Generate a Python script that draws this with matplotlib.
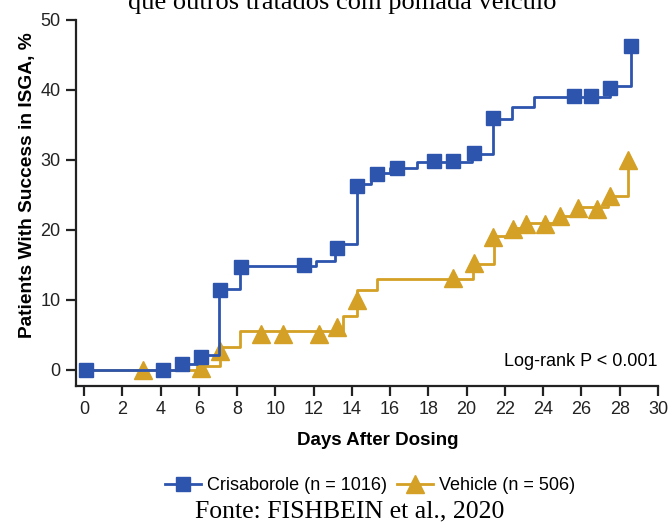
import matplotlib
matplotlib.use("Agg")
import matplotlib.pyplot as plt
from matplotlib.lines import Line2D

# ---- data ----
cris_step_days = [0, 5.0, 5.9, 7.05, 8.15, 12.15, 13.1, 14.25, 15.0, 16.0, 17.4, 20.3, 21.4, 22.35, 23.5, 27.5, 28.6]
cris_step_vals = [0, 0.9, 2.2, 11.5, 14.8, 15.6, 18.0, 26.5, 28.1, 28.9, 29.7, 30.9, 35.9, 37.6, 39.0, 40.6, 46.3]
cris_mark_days = [0.1, 4.15, 5.1, 6.1, 7.1, 8.2, 11.5, 13.2, 14.25, 15.3, 16.35, 18.3, 19.3, 20.4, 21.4, 25.6, 26.5, 27.5, 28.6]
cris_mark_vals = [0, 0, 0.8, 1.9, 11.4, 14.7, 15.0, 17.4, 26.3, 28.0, 28.9, 29.9, 29.9, 31.0, 36.0, 39.1, 39.1, 40.3, 46.3]

veh_step_days = [0, 5.9, 7.1, 8.15, 13.55, 14.25, 15.3, 20.35, 21.45, 22.4, 23.1, 24.9, 25.7, 27.4, 28.45]
veh_step_vals = [0, 0.5, 3.3, 5.5, 7.7, 11.4, 13.0, 15.2, 19.2, 20.3, 21.0, 22.0, 23.3, 24.9, 30.0]
veh_mark_days = [3.1, 6.1, 7.1, 9.25, 10.4, 12.3, 13.2, 14.25, 19.3, 20.4, 21.4, 22.4, 23.1, 24.1, 24.9, 25.8, 26.8, 27.5, 28.45]
veh_mark_vals = [0, 0.3, 2.7, 5.2, 5.2, 5.2, 6.1, 10.0, 13.1, 15.3, 19.0, 20.2, 20.9, 20.9, 22.0, 23.1, 23.0, 24.9, 30.0]

x_ticks = list(range(0, 31, 2))
y_ticks = [0, 10, 20, 30, 40, 50]
cris_label = "Crisaborole (n = 1016)"
veh_label = "Vehicle (n = 506)"

BLUE = "#2D55AE"
GOLD = "#D4A025"

plt.rcParams['font.family'] = ['Liberation Sans', 'DejaVu Sans']

fig = plt.figure(figsize=(6.72, 5.24), dpi=100)
ax = fig.add_axes([76/672, 1-386/524, (658-76)/672, (386-20)/524])

ax.plot(veh_step_days, veh_step_vals, drawstyle='steps-post', color=GOLD, lw=2.0, zorder=2)
ax.plot(veh_mark_days, veh_mark_vals, ls='none', marker='^', ms=13, color=GOLD, mec=GOLD, zorder=3)
ax.plot(cris_step_days, cris_step_vals, drawstyle='steps-post', color=BLUE, lw=2.0, zorder=4)
ax.plot(cris_mark_days, cris_mark_vals, ls='none', marker='s', ms=9.5, color=BLUE, mec=BLUE, zorder=5)

ax.set_xlim(-0.42, 30)
ax.set_ylim(-2.3, 50)
ax.set_xticks(x_ticks)
ax.set_yticks(y_ticks)
for s in ['top', 'right']:
    ax.spines[s].set_visible(False)
for s in ['left', 'bottom']:
    ax.spines[s].set_linewidth(1.6)
    ax.spines[s].set_color('#222222')
ax.tick_params(axis='both', direction='out', length=7, width=1.6, labelsize=13, colors='#222222', pad=4)

ax.set_xlabel("Days After Dosing", fontsize=13.5, fontweight='bold')
ax.xaxis.set_label_coords((378-76)/582, -(432-386)/366)
ax.set_ylabel("Patients With Success in ISGA, %", fontsize=13.8, fontweight='bold')
ax.yaxis.set_label_coords(-(76-36)/582, (386-185)/366)

ax.text(1.0, (386-362)/366, "Log-rank P < 0.001", transform=ax.transAxes, ha='right', va='center', fontsize=13)

handles = [
    Line2D([], [], color=BLUE, lw=2.0, marker='s', ms=9.5),
    Line2D([], [], color=GOLD, lw=2.0, marker='^', ms=13),
]
fig.legend(handles, [cris_label, veh_label], loc='center', bbox_to_anchor=(370/672, 1-486/524),
           ncol=2, frameon=False, fontsize=13, handlelength=2.0, columnspacing=0.6, handletextpad=0.3)

fig.text(350/672, 1-511/524, "Fonte: FISHBEIN et al., 2020", ha='center', va='center',
         fontsize=18.5, family=['Liberation Serif', 'DejaVu Serif'])
fig.text(342/672, 1-9/524, "que outros tratados com pomada veículo", ha='center', va='baseline',
         fontsize=19, family=['Liberation Serif', 'DejaVu Serif'])

fig.savefig("out.png", dpi=100)
